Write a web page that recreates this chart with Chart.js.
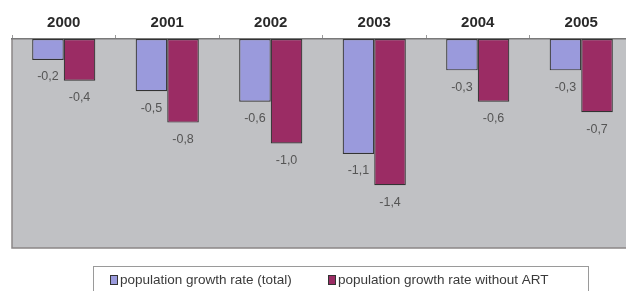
<!DOCTYPE html>
<html><head><meta charset="utf-8">
<script src="https://cdn.jsdelivr.net/npm/chart.js@4/dist/chart.umd.min.js"></script>
<style>html,body{margin:0;padding:0;background:#fff;overflow:hidden;width:626px;height:291px}</style>
</head><body>
<canvas id="c" width="640" height="291"></canvas>
<script>
const categories = ["2000","2001","2002","2003","2004","2005"];
const totalRate = [-0.2,-0.5,-0.6,-1.1,-0.3,-0.3];
const withoutART = [-0.4,-0.8,-1.0,-1.4,-0.6,-0.7];
const seriesNames = ["population growth rate (total)","population growth rate without ART"];
const seriesColors = ["#9a9adc","#9b2c64"];

const bgPlugin = {
  id:'bg',
  beforeDraw(chart){
    const {ctx, chartArea:a} = chart;
    ctx.save();
    ctx.fillStyle = '#c0c1c4';
    ctx.fillRect(a.left, a.top, a.right-a.left, a.bottom-a.top);
    ctx.strokeStyle = '#8a8686';
    ctx.lineWidth = 1.5;
    ctx.beginPath();
    ctx.moveTo(a.left, a.top); ctx.lineTo(a.left, a.bottom); ctx.lineTo(a.right, a.bottom);
    ctx.stroke();
    ctx.restore();
  }
};
const labelPlugin = {
  id:'vals',
  afterDatasetsDraw(chart){
    const {ctx} = chart;
    ctx.save();
    ctx.font = '12.5px Arial, "Liberation Sans", sans-serif';
    ctx.fillStyle = '#555555';
    ctx.textAlign = 'center';
    ctx.textBaseline = 'middle';
    chart.data.datasets.forEach((ds, i) => {
      chart.getDatasetMeta(i).data.forEach((bar, j) => {
        const v = ds.data[j];
        ctx.fillText(v.toFixed(1).replace('.', ','), bar.x, bar.y + 17);
      });
    });
    ctx.restore();
  }
};
const legendPlugin = {
  id:'legbox',
  afterDraw(chart){
    const {ctx} = chart;
    ctx.save();
    ctx.strokeStyle = '#9a9a9a';
    ctx.lineWidth = 1;
    ctx.strokeRect(93.5, 266.5, 495, 40);
    ctx.font = '13.5px Arial, "Liberation Sans", sans-serif';
    ctx.textBaseline = 'middle';
    const xs = [110, 328];
    seriesNames.forEach((n, i) => {
      ctx.fillStyle = seriesColors[i];
      ctx.fillRect(xs[i], 275, 8, 10);
      ctx.strokeStyle = '#333';
      ctx.strokeRect(xs[i]+0.5, 275.5, 7, 9);
      ctx.fillStyle = '#3a3a3a';
      ctx.fillText(n, xs[i]+10, 280);
    });
    ctx.restore();
  }
};

new Chart(document.getElementById('c'), {
  type:'bar',
  data:{
    labels: categories,
    datasets:[
      {label: seriesNames[0], data: totalRate, backgroundColor: seriesColors[0], borderColor:'#333', borderWidth:1.2, borderSkipped:false},
      {label: seriesNames[1], data: withoutART, backgroundColor: seriesColors[1], borderColor:'#333', borderWidth:1.2, borderSkipped:false}
    ]
  },
  options:{
    responsive:false,
    animation:false,
    layout:{padding:{left:12, right:7, top:11, bottom:43}},
    plugins:{legend:{display:false}, tooltip:{enabled:false}},
    datasets:{bar:{categoryPercentage:0.61, barPercentage:1.0}},
    scales:{
      x:{
        position:'top',
        grid:{drawOnChartArea:false, tickLength:4, color:'#9a9a9a', offset:true},
        border:{color:'#7a7a7a', width:1.5},
        ticks:{color:'#2a2a2a', font:{family:'Arial, "Liberation Sans", sans-serif', size:15, weight:'bold'}, padding:3}
      },
      y:{
        display:false,
        min:-2, max:0
      }
    }
  },
  plugins:[bgPlugin, labelPlugin, legendPlugin]
});
</script>
</body></html>
